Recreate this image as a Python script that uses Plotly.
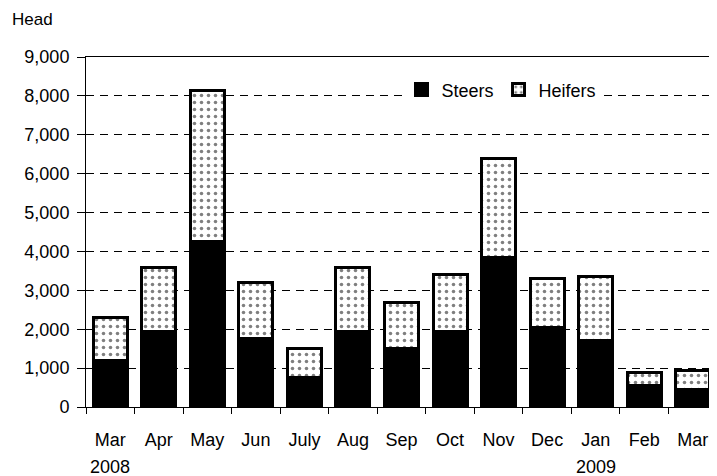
import plotly.graph_objects as go

months = ["Mar", "Apr", "May", "Jun", "July", "Aug", "Sep", "Oct", "Nov", "Dec", "Jan", "Feb", "Mar"]
years = ["2008", "2008", "2008", "2008", "2008", "2008", "2008", "2008", "2008", "2008", "2009", "2009", "2009"]
steers = [1200, 1950, 4250, 1750, 750, 1950, 1500, 1950, 3850, 2050, 1700, 550, 450]
heifers = [1100, 1650, 3900, 1450, 750, 1650, 1200, 1450, 2550, 1250, 1650, 350, 500]
y_ticks = [0, 1000, 2000, 3000, 4000, 5000, 6000, 7000, 8000, 9000]
year_labels = [("Mar 2008", "2008"), ("Jan 2009", "2009")]

keys = [f"{m} {y}" for m, y in zip(months, years)]
FONT = "Liberation Sans, Arial, sans-serif"

fig = go.Figure()
fig.add_trace(go.Bar(
    x=keys, y=steers, name="Steers",
    marker=dict(color="black", line=dict(color="black", width=3)),
))
fig.add_trace(go.Bar(
    x=keys, y=heifers, name="Heifers",
    marker=dict(color="white", line=dict(color="black", width=3),
                pattern=dict(shape=".", fgcolor="black", bgcolor="white", size=7, solidity=0.2)),
))

for k, txt in year_labels:
    fig.add_annotation(x=k, xref="x", y=-0.172, yref="paper", text=txt, showarrow=False,
                       yanchor="middle", xanchor="center", font=dict(size=18, color="black", family=FONT))

fig.add_annotation(x=-0.12, xref="paper", y=1.106, yref="paper", text="Head", showarrow=False,
                   xanchor="left", yanchor="middle", font=dict(size=17, color="black", family=FONT))

fig.update_layout(
    width=709, height=468,
    margin=dict(l=78, r=0, t=49, b=69, autoexpand=False),
    barmode="stack", bargap=0.3,
    plot_bgcolor="white", paper_bgcolor="white",
    font=dict(family=FONT, size=18, color="black"),
    showlegend=True,
    legend=dict(orientation="h", x=0.5, y=0.906, xanchor="left", yanchor="middle",
                bgcolor="white", font=dict(size=18), traceorder="normal",
                itemwidth=30, tracegroupgap=0),
)
fig.update_xaxes(
    type="category", categoryorder="array", categoryarray=keys,
    tickvals=keys, ticktext=months,
    showline=True, linecolor="black", linewidth=1, mirror=True,
    ticks="outside", ticklen=6, tickcolor="black", tickson="boundaries",
    showgrid=False, ticklabelstandoff=16, automargin=False,
)
fig.update_yaxes(
    range=[0, 9000], tickvals=y_ticks, tickformat=",d",
    showline=True, linecolor="black", linewidth=1,
    ticks="outside", ticklen=8, tickcolor="black",
    showgrid=True, gridcolor="black", gridwidth=1, griddash="8px,6px",
    zeroline=False, ticklabelstandoff=4, automargin=False,
)

fig.write_html("out.html")
